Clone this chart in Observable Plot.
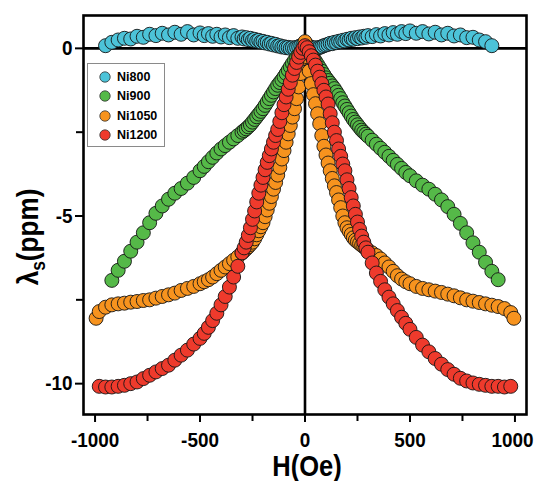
<!DOCTYPE html>
<html>
<head>
<meta charset="utf-8">
<script src="https://cdn.jsdelivr.net/npm/d3@7"></script>
<script src="https://cdn.jsdelivr.net/npm/@observablehq/plot@0.6"></script>
<style>
  html, body { margin: 0; padding: 0; background: #fff; }
  #wrap { position: relative; width: 538px; height: 481px; }
  #legend { position: absolute; left: 87px; top: 63px; width: 78px; height: 84px;
            border: 1px solid #8a8a8a; background: #fff; box-sizing: border-box;
            font-family: "Liberation Sans", Arial, sans-serif; font-weight: bold; font-size: 12.5px; }
  .row { position: absolute; left: 0; height: 20px; display: flex; align-items: center; }
  .row svg { margin-left: 11px; margin-right: 6px; }
</style>
</head>
<body>
<div id="wrap"><div id="legend"></div></div>
<script>
// Magnetic field H (Oe), shared sampling for all series
const field = [-995,-980,
  -950,-920,-890,-860,-830,-800,-770,-740,-710,-680,-650,-620,-590,-560,-530,
  -500,-480,-460,-440,-420,-400,-380,-360,-340,-320,
  -300,-290,-280,-270,-260,-250,-240,-230,-220,-210,-200,-190,-180,-170,-160,-150,-140,-130,-120,-110,-100,-90,-80,-70,-60,-50,-40,-30,-20,-10,
  0,
  10,20,30,40,50,60,70,80,90,100,110,120,130,140,150,160,170,180,190,200,210,220,230,240,250,260,270,280,290,300,
  320,340,360,380,400,420,440,460,480,500,
  530,560,590,620,650,680,710,740,770,800,830,860,890,920,950,
  980,995];

const seriesNames = ["Ni800", "Ni900", "Ni1050", "Ni1200"];
const seriesColors = ["#4cc3d8", "#55b948", "#f7931e", "#ee3a2c"];

const ni800 = [null,null,
  0.08,0.18,0.25,0.3,0.28,0.36,0.33,0.42,0.38,0.45,0.4,0.48,0.42,0.5,0.4,
  0.46,0.38,0.44,0.36,0.42,0.34,0.4,0.32,0.38,0.3,
  0.34,0.28,0.32,0.26,0.3,0.24,0.27,0.22,0.24,0.19,0.21,0.16,0.18,0.13,0.15,0.1,0.12,0.07,0.08,0.04,0.05,0.02,0.03,0.0,0.02,0.0,0.03,0.05,0.08,0.1,
  0.12,
  0.1,0.06,0.03,0.0,0.02,0.0,0.03,0.05,0.08,0.1,0.12,0.15,0.14,0.18,0.17,0.21,0.2,0.24,0.22,0.27,0.25,0.3,0.27,0.32,0.29,0.34,0.31,0.36,0.33,0.38,
  0.35,0.41,0.37,0.44,0.4,0.47,0.42,0.5,0.44,0.52,
  0.45,0.5,0.43,0.48,0.4,0.45,0.37,0.4,0.32,0.33,0.25,0.2,0.08,null,null,
  null,null];

const ni900 = [null,null,
  null,-6.92,-6.62,-6.35,-6.05,-5.78,-5.5,-5.2,-4.92,-4.7,-4.5,-4.32,-4.18,-4.02,-3.85,
  -3.65,-3.52,-3.38,-3.25,-3.12,-3.0,-2.9,-2.8,-2.7,-2.6,
  -2.5,-2.45,-2.4,-2.34,-2.28,-2.2,-2.12,-2.04,-1.96,-1.88,-1.8,-1.7,-1.6,-1.5,-1.4,-1.3,-1.2,-1.1,-1.02,-0.94,-0.85,-0.75,-0.65,-0.55,-0.45,-0.36,-0.27,-0.19,-0.12,-0.05,
  0,
  -0.05,-0.12,-0.2,-0.28,-0.38,-0.48,-0.58,-0.68,-0.78,-0.88,-0.96,-1.04,-1.12,-1.2,-1.3,-1.4,-1.5,-1.62,-1.72,-1.82,-1.92,-2.02,-2.12,-2.2,-2.28,-2.36,-2.44,-2.5,-2.56,-2.62,
  -2.74,-2.86,-2.98,-3.1,-3.22,-3.34,-3.46,-3.58,-3.7,-3.8,
  -3.95,-4.08,-4.2,-4.35,-4.52,-4.72,-4.95,-5.22,-5.5,-5.8,-6.08,-6.38,-6.65,-6.9,null,
  null,null];

const ni1050 = [-8.05,-7.85,
  -7.72,-7.65,-7.62,-7.6,-7.57,-7.55,-7.52,-7.5,-7.45,-7.4,-7.35,-7.3,-7.22,-7.16,-7.1,
  -7.02,-6.96,-6.9,-6.82,-6.72,-6.62,-6.52,-6.42,-6.32,-6.22,
  -6.1,-6.04,-5.98,-5.92,-5.85,-5.78,-5.68,-5.56,-5.44,-5.32,-5.2,-5.02,-4.82,-4.62,-4.42,-4.2,-4.0,-3.78,-3.55,-3.3,-3.05,-2.8,-2.55,-2.3,-2.05,-1.8,-1.5,-1.15,-0.75,-0.3,
  0.2,
  -0.25,-0.68,-1.05,-1.38,-1.65,-1.95,-2.25,-2.6,-2.92,-3.18,-3.42,-3.65,-3.88,-4.1,-4.3,-4.52,-4.75,-5.0,-5.2,-5.35,-5.45,-5.55,-5.65,-5.72,-5.77,-5.82,-5.87,-5.92,-5.97,-6.02,
  -6.1,-6.18,-6.28,-6.4,-6.52,-6.65,-6.78,-6.88,-6.96,-7.02,
  -7.1,-7.16,-7.2,-7.24,-7.28,-7.33,-7.38,-7.44,-7.5,-7.54,-7.58,-7.62,-7.66,-7.7,-7.76,
  -7.88,-8.05];

const ni1200 = [null,-10.08,
  -10.1,-10.1,-10.08,-10.05,-10.0,-9.95,-9.85,-9.75,-9.65,-9.55,-9.45,-9.3,-9.15,-9.0,-8.82,
  -8.65,-8.5,-8.32,-8.12,-7.9,-7.65,-7.4,-7.12,-6.82,-6.5,
  -6.1,-5.95,-5.78,-5.58,-5.35,-5.1,-4.85,-4.58,-4.32,-4.08,-3.85,-3.62,-3.4,-3.2,-3.0,-2.8,-2.6,-2.42,-2.18,-1.92,-1.68,-1.45,-1.22,-1.02,-0.8,-0.6,-0.42,-0.26,-0.12,0.0,
  0.08,
  0.02,-0.1,-0.22,-0.35,-0.5,-0.68,-0.86,-1.05,-1.25,-1.45,-1.66,-1.95,-2.22,-2.5,-2.75,-3.0,-3.22,-3.45,-3.65,-3.92,-4.18,-4.45,-4.7,-4.95,-5.18,-5.4,-5.6,-5.78,-5.95,-6.08,
  -6.4,-6.7,-6.95,-7.2,-7.42,-7.62,-7.82,-8.02,-8.2,-8.38,
  -8.62,-8.85,-9.05,-9.25,-9.42,-9.58,-9.72,-9.84,-9.92,-9.98,-10.02,-10.05,-10.08,-10.08,-10.1,
  -10.08,null];

const xTicks = [-1000, -500, 0, 500, 1000];
const xTickLabels = ["-1000", "-500", "0", "500", "1000"];
const xMinorTicks = [-750, -250, 250, 750];
const yTicks = [0, -5, -10];
const yTickLabels = ["0", "-5", "-10"];
const yMinorTicks = [-2.5, -7.5];

const allSeries = [ni800, ni900, ni1050, ni1200];
const tables = allSeries.map((vals, s) =>
  field.map((h, i) => ({H: h, L: vals[i], name: seriesNames[s]})).filter(d => d.L !== null));

const fontFam = "'Liberation Sans', Arial, sans-serif";

const chart = Plot.plot({
  width: 538, height: 481,
  marginLeft: 83, marginRight: 12, marginTop: 15, marginBottom: 67,
  x: {domain: [-1055, 1055]},
  y: {domain: [-10.92, 0.98]},
  style: {fontFamily: fontFam, background: "white", color: "black"},
  marks: [
    Plot.ruleY([0], {stroke: "black", strokeWidth: 2.6}),
    Plot.ruleX([0], {stroke: "black", strokeWidth: 2.6}),
    ...tables.map((t, s) => Plot.dot(t, {x: "H", y: "L", r: 7, fill: seriesColors[s], stroke: "#151515", strokeWidth: 0.9})),
    Plot.frame({stroke: "black", strokeWidth: 2.6}),
    Plot.axisX(xTicks, {tickSize: 8, tickPadding: 10, strokeWidth: 2, fontSize: 21, fontWeight: "bold",
      tickFormat: (d) => xTickLabels[xTicks.indexOf(d)], label: null}),
    Plot.axisX(xMinorTicks, {tickSize: 7, strokeWidth: 2, tickFormat: () => "", label: null}),
    Plot.axisY(yTicks, {tickSize: 8, tickPadding: 3, strokeWidth: 2, fontSize: 21, fontWeight: "bold",
      tickFormat: (d) => yTickLabels[yTicks.indexOf(d)], label: null}),
    Plot.axisY(yMinorTicks, {tickSize: 7, strokeWidth: 2, tickFormat: () => "", label: null})
  ]
});

document.getElementById("wrap").prepend(chart);
const svg = d3.select(chart);

// condensed look for tick labels (glyphs compressed horizontally)
svg.selectAll("g[aria-label$='tick label'] text").each(function() {
  if (!this.textContent) return;
  const L = this.getComputedTextLength();
  if (L > 0) {
    this.setAttribute("textLength", (L * 0.9).toFixed(2));
    this.setAttribute("lengthAdjust", "spacingAndGlyphs");
  }
  if (this.textContent === "1000") this.setAttribute("dx", -2.5);
});

// axis titles
svg.append("text")
  .attr("transform", "translate(307,476) scale(0.88,1)")
  .attr("text-anchor", "middle")
  .attr("font-family", fontFam).attr("font-weight", "bold").attr("font-size", 29)
  .attr("fill", "black")
  .text("H(Oe)");

const yt = svg.append("text")
  .attr("transform", "translate(38,237) rotate(-90) scale(0.87,1)")
  .attr("text-anchor", "middle")
  .attr("font-family", fontFam).attr("font-weight", "bold").attr("font-size", 30)
  .attr("fill", "black");
yt.append("tspan").text("λ");
yt.append("tspan").attr("dy", 7).attr("font-size", 20).text("s");
yt.append("tspan").attr("dy", -7).text("(ppm)");

// legend
const leg = d3.select("#legend");
seriesNames.forEach((n, i) => {
  const row = leg.append("div").attr("class", "row").style("top", (3 + i * 19.4) + "px");
  const s = row.append("svg").attr("width", 12).attr("height", 12);
  s.append("circle").attr("cx", 6).attr("cy", 6).attr("r", 5.2)
    .attr("fill", seriesColors[i]).attr("stroke", "#333").attr("stroke-width", 0.8);
  row.append("span").text(n);
});
</script>
</body>
</html>
